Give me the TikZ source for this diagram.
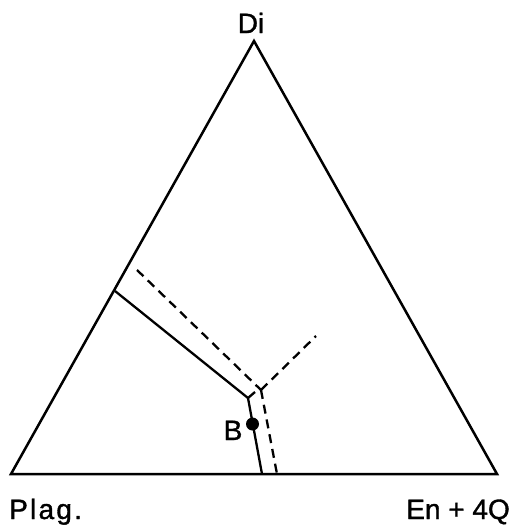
\documentclass[tikz,border=0pt]{standalone}
\usepackage{fontspec}
\setmainfont{Liberation Sans}
\begin{document}
\begin{tikzpicture}[x=1pt,y=-1pt,
  edge/.style={line width=2.5pt,line join=miter},
  bound/.style={line width=2.3pt},
  dbound/.style={line width=2.3pt,dash pattern=on 9pt off 6pt},
  lbl/.style={font=\fontsize{28}{30}\selectfont\addfontfeature{FakeBold=1.2},inner sep=0pt}]
\useasboundingbox (0,0) rectangle (513,525);
% triangle vertices
\coordinate (A) at (254,41);
\coordinate (L) at (11,474);
\coordinate (R) at (497,474);
\draw[edge] (A) -- (L) -- (R) -- cycle;
% solid boundaries
\coordinate (s1) at (115,291);
\coordinate (sj) at (248,398);
\coordinate (sb) at (262,474);
\coordinate (st) at (255,392);
\draw[bound] (s1) -- (sj) -- (sb);
\draw[bound] (sj) -- (st);
% dashed boundaries
\coordinate (d1) at (137,270);
\coordinate (dj) at (261,390);
\coordinate (dr) at (316,336);
\coordinate (db) at (277,474);
\draw[dbound] (d1) -- (dj);
\draw[dbound] (dj) -- (dr);
\draw[dbound] (dj) -- (db);
% point B
\node[circle,fill,inner sep=0pt,minimum size=13pt] (Bdot) at (252.5,424) {};
% labels
\node[lbl,anchor=base] (Di) at (251,33) {Di};
\node[lbl,anchor=base west] (Plag) at (9,519) {\addfontfeatures{LetterSpace=8}Plag.};
\node[lbl,anchor=base east] (En) at (510,519) {En + 4Q};
\node[lbl,anchor=base] (B) at (233,440) {B};
\end{tikzpicture}
\end{document}
